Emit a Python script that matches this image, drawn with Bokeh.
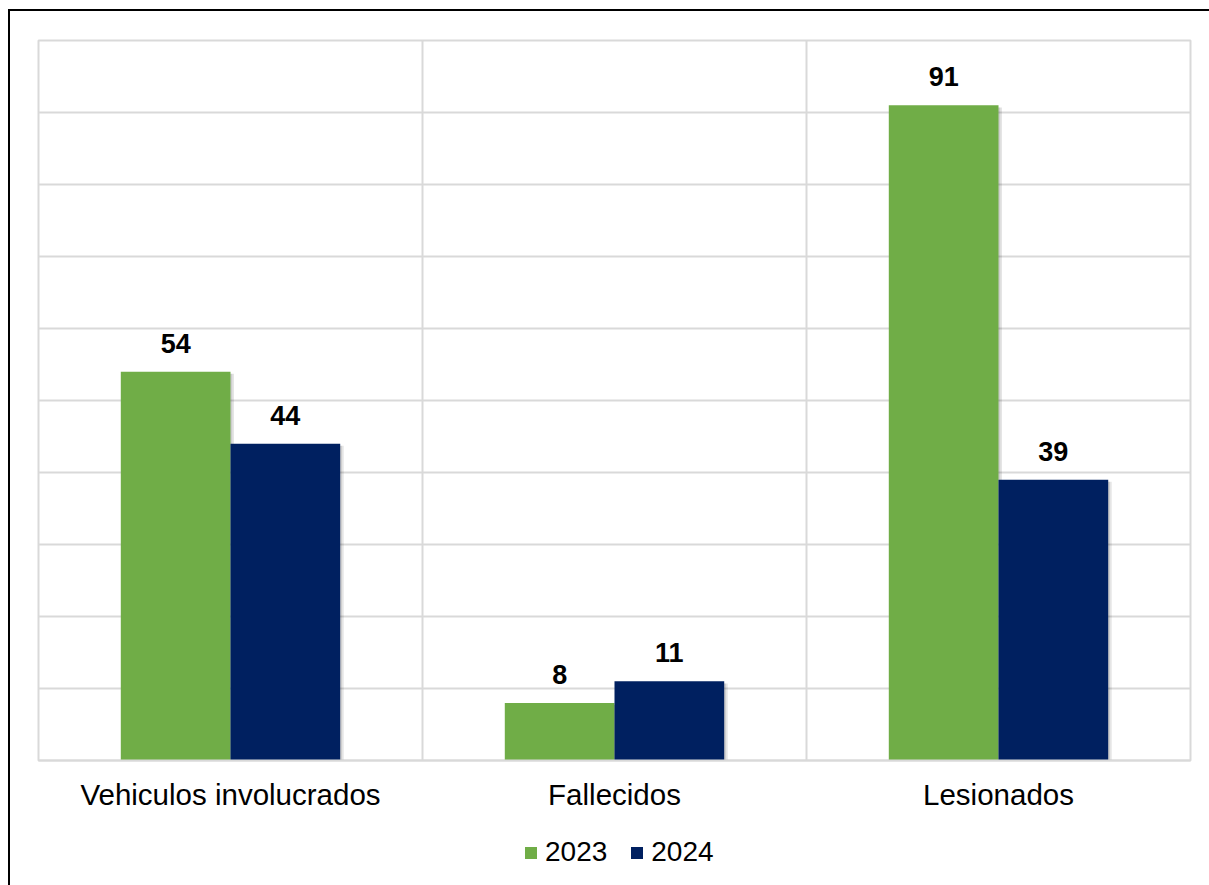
from bokeh.plotting import figure
from bokeh.layouts import column
from bokeh.models import (ColumnDataSource, FactorRange, Range1d, FixedTicker,
                          LabelSet, Legend, LegendItem)
from bokeh.core.properties import value
from bokeh.transform import dodge
from bokeh.embed import file_html
from bokeh.resources import INLINE

categories = ["Vehiculos involucrados", "Fallecidos", "Lesionados"]
years = ["2023", "2024"]
v2023 = [54, 8, 91]
v2024 = [44, 11, 39]
colors = ["#70AD47", "#002060"]

src = ColumnDataSource(dict(cat=categories, v2023=v2023, v2024=v2024,
                            s2023=[v - 0.3 for v in v2023],
                            s2024=[v - 0.3 for v in v2024],
                            l2023=[str(v) for v in v2023],
                            l2024=[str(v) for v in v2024]))

FONT = "Liberation Sans"

p = figure(x_range=FactorRange(*categories, range_padding=0),
           y_range=Range1d(0, 100), frame_width=1152, frame_height=720,
           output_backend="svg", toolbar_location=None,
           min_border_left=28, min_border_top=29,
           min_border_right=19, min_border_bottom=70)
p.outline_line_color = "#d9d9d9"
p.outline_line_width = 2
p.background_fill_color = "white"
p.border_fill_color = "white"

bw = 0.2857
sh = 3.5 / 384  # soft drop shadow offset (category units)
for scol, off in (("s2023", -bw / 2), ("s2024", bw / 2)):
    p.vbar(x=dodge("cat", off + sh, range=p.x_range), top=scol, width=bw,
           source=src, fill_color="black", fill_alpha=0.10, line_color=None)
    p.vbar(x=dodge("cat", off + sh / 2, range=p.x_range), top=scol, width=bw,
           source=src, fill_color="black", fill_alpha=0.10, line_color=None)

r1 = p.vbar(x=dodge("cat", -bw / 2, range=p.x_range), top="v2023", width=bw,
            source=src, fill_color=colors[0], line_color=None)
r2 = p.vbar(x=dodge("cat", bw / 2, range=p.x_range), top="v2024", width=bw,
            source=src, fill_color=colors[1], line_color=None)

for col, lab, off in (("v2023", "l2023", -bw / 2), ("v2024", "l2024", bw / 2)):
    p.add_layout(LabelSet(x=dodge("cat", off, range=p.x_range), y=col, text=lab,
                          source=src, text_align="center",
                          text_baseline="alphabetic", y_offset=19,
                          text_font=value(FONT), text_font_style="bold",
                          text_font_size="27px", text_color="black"))

p.yaxis.visible = False
p.ygrid.ticker = FixedTicker(ticks=list(range(0, 101, 10)))
p.ygrid.grid_line_color = "#d9d9d9"
p.ygrid.grid_line_width = 2
p.xgrid.ticker = FixedTicker(ticks=[0, 1, 2, 3])
p.xgrid.grid_line_color = "#d9d9d9"
p.xgrid.grid_line_width = 2

ax = p.xaxis[0]
ax.axis_line_color = "#d9d9d9"
ax.axis_line_width = 2
ax.major_tick_line_color = None
ax.minor_tick_line_color = None
ax.major_label_text_font = FONT
ax.major_label_text_font_size = "29.5px"
ax.major_label_text_color = "black"
ax.major_label_standoff = 11

# legend strip below the chart (bars fall outside its view; only the legend shows)
leg = figure(width=1199, height=55,
             x_range=FactorRange(*categories), y_range=Range1d(1000, 1001),
             output_backend="svg", toolbar_location=None,
             x_axis_location=None, y_axis_location=None, min_border=0)
leg.outline_line_color = None
leg.grid.visible = False
g1 = leg.vbar(x="cat", top="v2023", width=0.3, source=src,
              fill_color=colors[0], line_color=None)
g2 = leg.vbar(x="cat", top="v2024", width=0.3, source=src,
              fill_color=colors[1], line_color=None)
legend = Legend(items=[LegendItem(label=years[0], renderers=[g1]),
                       LegendItem(label=years[1], renderers=[g2])],
                orientation="horizontal", location=(485, 17),
                label_text_font=FONT, label_text_font_size="28px",
                label_text_color="black",
                glyph_width=15, glyph_height=15, label_standoff=7,
                spacing=22, border_line_color=None, background_fill_alpha=0,
                padding=0, margin=0)
leg.add_layout(legend, "center")

lay = column(p, leg, spacing=0)
lay.styles = {"margin-left": "8px", "margin-top": "9px",
              "border-left": "2px solid black", "border-top": "2px solid black"}

open("out.html", "w").write(file_html(lay, INLINE))
